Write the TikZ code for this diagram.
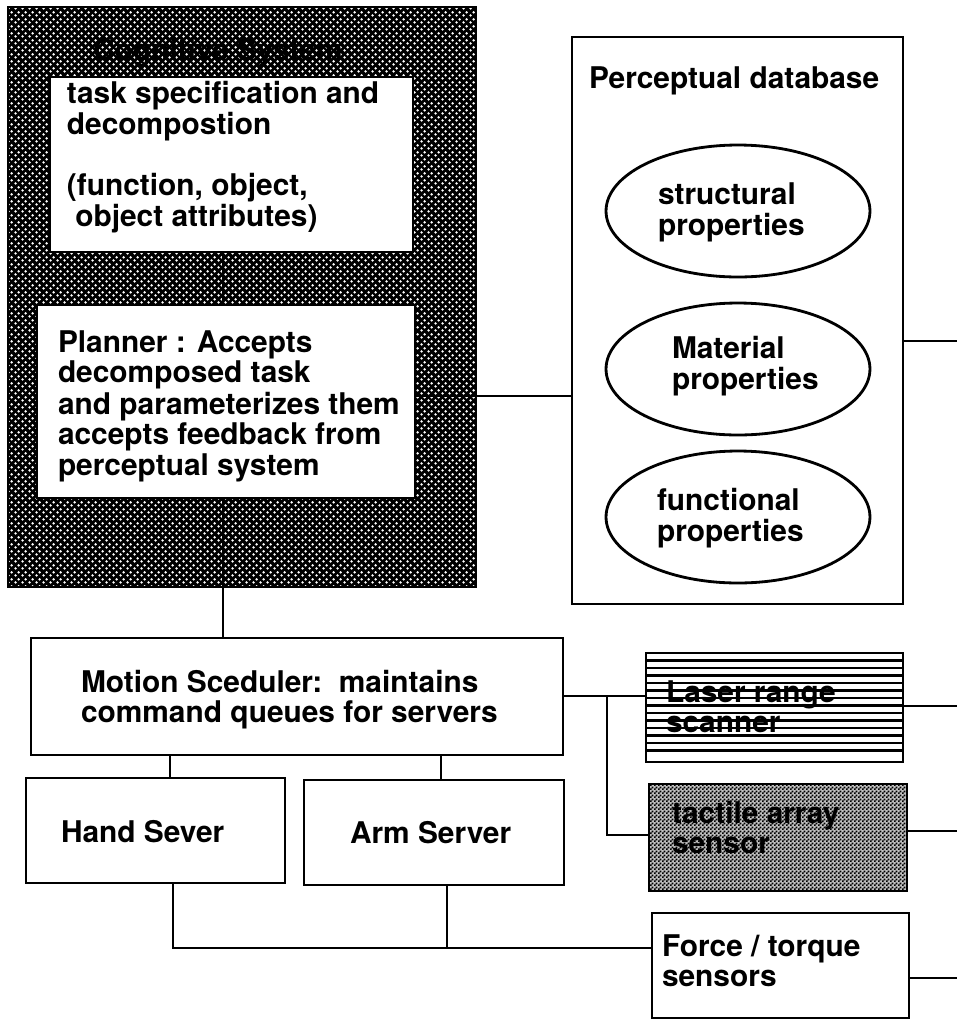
\documentclass[tikz,border=0pt]{standalone}
\usepackage{fontspec}
\setmainfont{TeX Gyre Heros}
\usetikzlibrary{patterns,fit,shapes.geometric}

% white dots on a black ground (cognitive system frame)
\pgfdeclarepatternformonly{cogdots}{\pgfqpoint{0pt}{0pt}}{\pgfqpoint{4pt}{4pt}}{\pgfqpoint{4pt}{4pt}}{%
  \pgfpathcircle{\pgfqpoint{1pt}{1pt}}{0.85pt}%
  \pgfpathcircle{\pgfqpoint{3pt}{3pt}}{0.85pt}%
  \pgfusepath{fill}}
% fine checkerboard (tactile sensor)
\pgfdeclarepatternformonly{tactilechk}{\pgfqpoint{0pt}{0pt}}{\pgfqpoint{2.3pt}{2.3pt}}{\pgfqpoint{2.3pt}{2.3pt}}{%
  \pgfpathrectangle{\pgfqpoint{0pt}{0pt}}{\pgfqpoint{1.15pt}{1.15pt}}%
  \pgfpathrectangle{\pgfqpoint{1.15pt}{1.15pt}}{\pgfqpoint{1.15pt}{1.15pt}}%
  \pgfusepath{fill}}

\newcommand{\txtlines}[1]{\begin{tabular}[t]{@{}l@{}}#1\end{tabular}}

\begin{document}
\begin{tikzpicture}[x=0.02cm, y=-0.02cm,
  every node/.style={inner sep=0pt, outer sep=0pt},
  frame/.style={draw, line width=1.6pt},
  whitebox/.style={frame, fill=white},
  blob/.style={draw, ellipse, line width=1.6pt, minimum width=5.28cm, minimum height=2.64cm},
  txt/.style={anchor=base west, font=\fontsize{17}{17.07}\selectfont\bfseries},
  wire/.style={line width=1.5pt}]
\useasboundingbox (0,0) rectangle (957,1019);

% ---- cognitive system ----
\node[fit={(8,7)(476,587)}, fill=black,
      postaction={pattern=cogdots, pattern color=white},
      postaction={draw, line width=1.6pt}] (cog) {};
\node[txt] (cogtitle) at (93,60) {Cognitive System};
\node[whitebox, fit={(50,77)(413,252)}] (task) {};
\node[whitebox, fit={(37,305)(415,498)}] (planner) {};
\node[txt] (tasktext) at (67,103) {\txtlines{task specification and\\ decompostion\\ \\ (function, object,\\ \ object attributes)}};
\node[txt] (plannertext) at (58,352) {\txtlines{Planner : Accepts\\ decomposed task\\ and parameterizes them\\ accepts feedback from\\ perceptual system}};

% ---- perceptual database ----
\node[whitebox, fit={(572,37)(903,604)}] (percep) {};
\node[txt] (perceptitle) at (589,88) {Perceptual database};
\node[blob] (struct) at (738,211) {};
\node[blob] (mater) at (738,369) {};
\node[blob] (funct) at (738,517) {};
\node[txt] (structtext) at (658,204) {\txtlines{structural\\ properties}};
\node[txt] (matertext) at (672,358) {\txtlines{Material\\ properties}};
\node[txt] (functtext) at (657,510) {\txtlines{functional\\ properties}};

% ---- scheduler and servers ----
\node[whitebox, fit={(31,638)(563,755)}] (motion) {};
\node[txt] (motiontext) at (81,692) {\txtlines{Motion Sceduler:\ \ maintains\\ command queues for servers}};
\node[whitebox, fit={(26,778)(285,883)}] (hand) {};
\node[txt] (handtext) at (61,842) {Hand Sever};
\node[whitebox, fit={(304,780)(564,885)}] (arm) {};
\node[txt] (armtext) at (350,843) {Arm Server};

% ---- sensors ----
\node[whitebox, fit={(646,653)(903,762)}] (laser) {};
\begin{scope}
  \clip (646,653) rectangle (903,762);
  \foreach \k in {0,...,12}
    \draw[line width=1.5pt] (646,{660.5+7.5*\k}) -- (903,{660.5+7.5*\k});
\end{scope}
\node[frame, fit={(646,653)(903,762)}] (laserframe) {};
\node[txt] (lasertext) at (666,702) {\txtlines{Laser range\\ scanner}};

\node[fit={(649,784)(907,891)}, fill=black!25,
      postaction={pattern=tactilechk, pattern color=black},
      postaction={draw, line width=1.6pt}] (tactile) {};
\node[txt] (tactiletext) at (672,823) {\txtlines{tactile array\\ sensor}};

\node[whitebox, fit={(652,913)(909,1018)}] (force) {};
\node[txt] (forcetext) at (662,956) {\txtlines{Force / torque\\ sensors}};

% ---- wiring ----
\coordinate (xcog) at (223,0);
\coordinate (xhand) at (170,0);
\coordinate (xhandb) at (173,0);
\coordinate (xarm) at (441,0);
\coordinate (xarmb) at (447,0);
\coordinate (yplan) at (0,396);
\coordinate (ymot) at (0,696);
\coordinate (ytac) at (0,835);
\coordinate (ybus) at (0,948);
\coordinate (tap) at (607,696);
\coordinate (pend) at (957,341);
\coordinate (lend) at (957,706);
\coordinate (tend) at (957,831);
\coordinate (fend) at (957,978);

\draw[wire] (task.south -| xcog) -- (planner.north -| xcog);
\draw[wire] (planner.south -| xcog) -- (motion.north -| xcog);
\draw[wire] (planner.east |- yplan) -- (percep.west |- yplan);
\draw[wire] (motion.south -| xhand) -- (hand.north -| xhand);
\draw[wire] (motion.south -| xarm) -- (arm.north -| xarm);
\draw[wire] (motion.east |- ymot) -- (laser.west |- ymot);
\draw[wire] (tap) -- (tap |- ytac) -- (tactile.west |- ytac);
\draw[wire] (hand.south -| xhandb) -- (xhandb |- ybus) -- (force.west |- ybus);
\draw[wire] (arm.south -| xarmb) -- (xarmb |- ybus);
\draw[wire] (percep.east |- pend) -- (pend);
\draw[wire] (laser.east |- lend) -- (lend);
\draw[wire] (tactile.east |- tend) -- (tend);
\draw[wire] (force.east |- fend) -- (fend);
\end{tikzpicture}
\end{document}
